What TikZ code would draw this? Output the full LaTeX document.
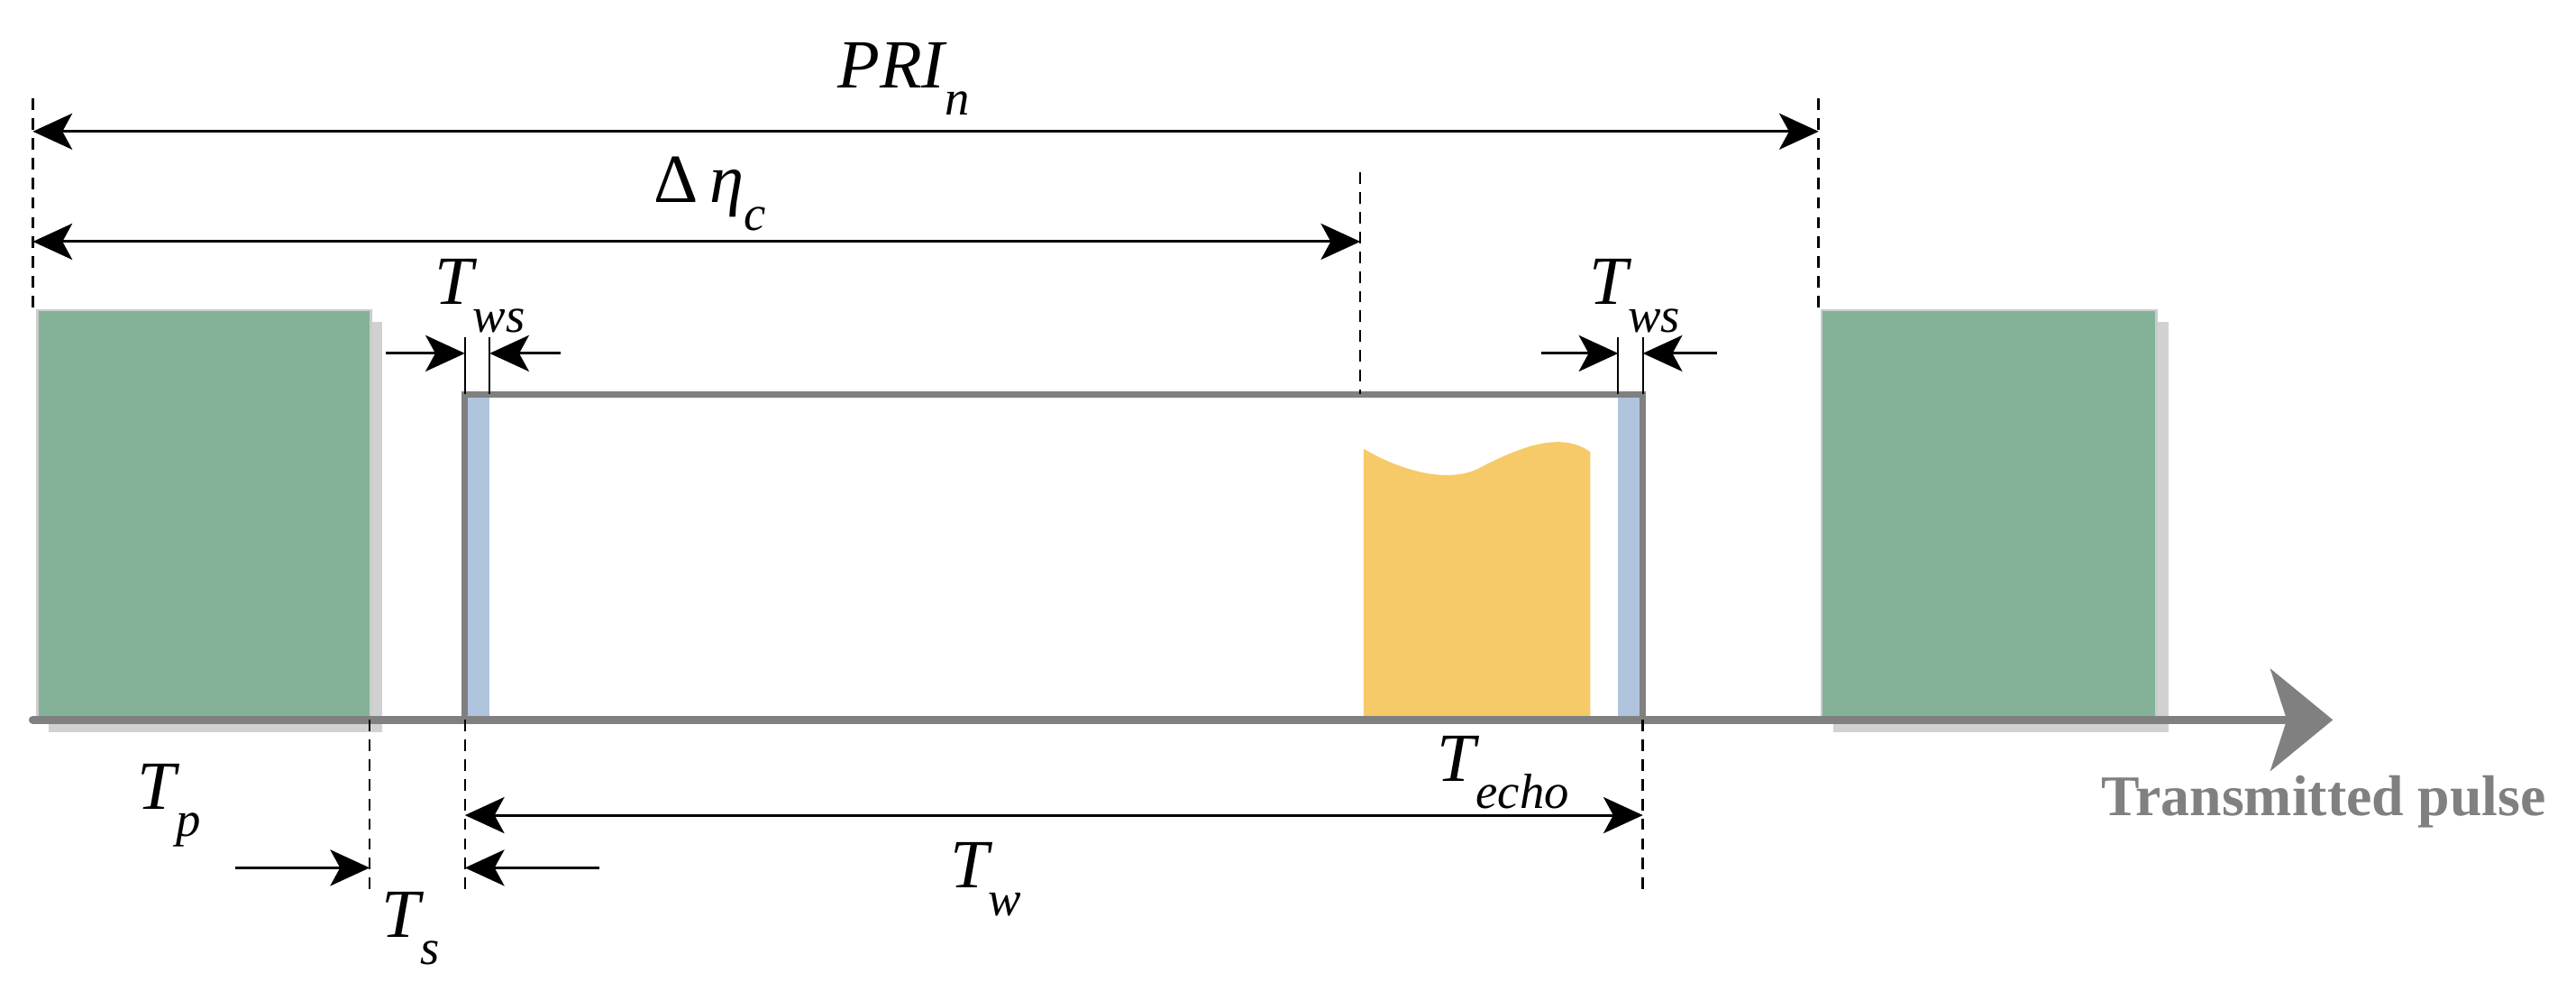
\documentclass[tikz,border=0pt]{standalone}
\usepackage{fontspec}
\setmainfont{Liberation Serif}
\usetikzlibrary{arrows.meta,shadows}
\definecolor{pgreen}{RGB}{131,178,152}
\definecolor{pgray}{RGB}{128,128,128}
\definecolor{pblue}{RGB}{176,196,222}
\definecolor{pyel}{RGB}{246,202,104}
\newcommand{\mylab}[2]{\itshape #1\raisebox{-0.4em}{\fontsize{30}{30}\selectfont\itshape #2}}
\tikzset{
  dim/.style={line width=1.6pt,-{Stealth[length=24pt,width=22pt,inset=6pt]}},
  dims/.style={line width=1.6pt,{Stealth[length=24pt,width=22pt,inset=6pt]}-{Stealth[length=24pt,width=22pt,inset=6pt]}},
  guide/.style={line width=1.4pt,dash pattern=on 7pt off 5pt},
  lab/.style={font=\fontsize{42}{42}\selectfont,inner sep=0pt},
  pulse/.style={fill=pgreen,draw=black!20,line width=1.5pt,drop shadow={shadow xshift=7pt,shadow yshift=-7pt,opacity=0.18,fill=black}},
}
\begin{document}
\begin{tikzpicture}[x=1pt,y=-1pt]
\useasboundingbox (0,0) rectangle (1568,608);
% pulses
\node[pulse,minimum width=203pt,minimum height=250pt,anchor=north west,inner sep=0pt] (p1) at (22,188) {};
\node[pulse,minimum width=204pt,minimum height=250pt,anchor=north west,inner sep=0pt] (p2) at (1108,188) {};
% window box
\fill[pblue] (284,241) rectangle (298,438);
\fill[pblue] (985,241) rectangle (999,438);
% echo
\fill[pyel] (830,273) .. controls (850,285) and (880,295) .. (900,285) .. controls (925,272) and (950,262) .. (968,275) -- (968,438) -- (830,438) -- cycle;
\draw[pgray,line width=4pt] (283,438) -- (283,240) -- (1000,240) -- (1000,438);
% axis
\coordinate (a0) at (20,438);
\coordinate (a1) at (1420,438);
\draw[pgray,line width=5pt,line cap=round,-{Triangle[length=38pt,width=62pt,inset=10pt]}] (a0) -- (a1);
\node[font=\fontsize{35}{35}\selectfont\bfseries,text=pgray,inner sep=0pt,anchor=east] (tp) at (1550,488) {Transmitted pulse};
% guides
\draw[guide] (20,60) -- (20,188);
\draw[guide] (1107,60) -- (1107,188);
\draw[guide] (828,105) -- (828,240);
\draw[guide] (225,438) -- (225,545);
\draw[guide] (283,438) -- (283,545);
\draw[guide] (1000,438) -- (1000,545);
\draw[line width=1.2pt] (283,205) -- (283,240) (298,205) -- (298,240);
\draw[line width=1.2pt] (985,205) -- (985,240) (1000,205) -- (1000,240);
% dimensions
\coordinate (pa) at (20,80); \coordinate (pb) at (1107,80);
\draw[dims] (pa) -- (pb);
\node[lab] (pri) at (550,48) {\mylab{PRI}{n}};
\coordinate (da) at (20,147); \coordinate (db) at (828,147);
\draw[dims] (da) -- (db);
\node[lab] (deta) at (432,118) {Δ\,\mylab{η}{c}};
\coordinate (w1) at (235,215); \coordinate (w2) at (341,215);
\draw[dim] (w1) -- (283,215);
\draw[dim] (w2) -- (298,215);
\node[lab] (tws1) at (292,180) {\mylab{T}{ws}};
\coordinate (w3) at (938,215); \coordinate (w4) at (1045,215);
\draw[dim] (w3) -- (985,215);
\draw[dim] (w4) -- (1000,215);
\node[lab] (tws2) at (995,180) {\mylab{T}{ws}};
\coordinate (ta) at (283,496); \coordinate (tb) at (1000,496);
\draw[dims] (ta) -- (tb);
\node[lab] (tw) at (600,535) {\mylab{T}{w}};
\node[lab] (techo) at (915,470) {\mylab{T}{echo}};
\coordinate (s1) at (143,528); \coordinate (s2) at (365,528);
\draw[dim] (s1) -- (225,528);
\draw[dim] (s2) -- (283,528);
\node[lab] (ts) at (250,565) {\mylab{T}{s}};
\node[lab] (tpl) at (103,490) {\mylab{T}{p}};
\end{tikzpicture}
\end{document}
